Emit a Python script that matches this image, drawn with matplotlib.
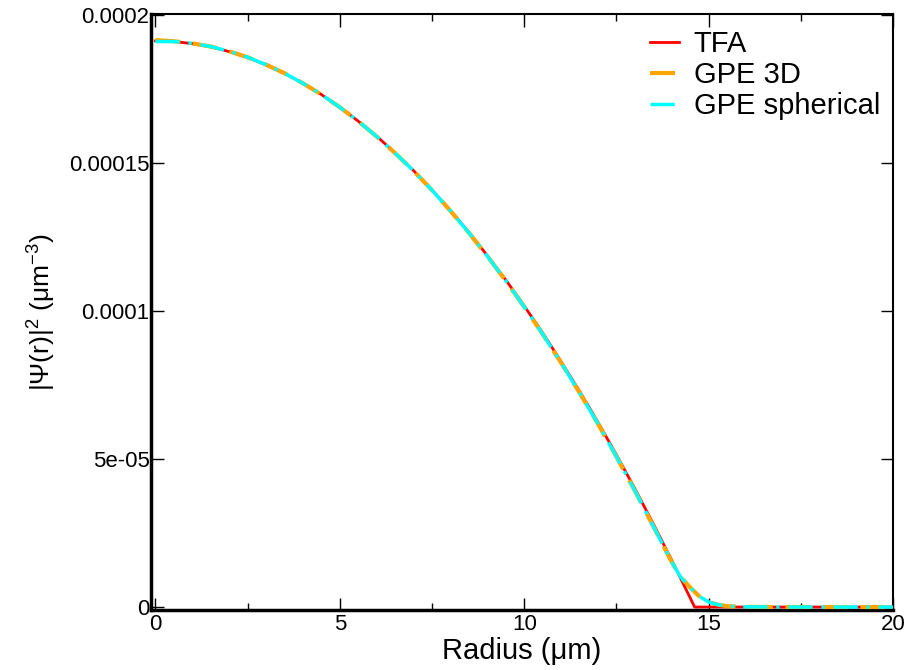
import matplotlib
matplotlib.use("Agg")
import matplotlib.pyplot as plt
from matplotlib.ticker import FixedLocator, FixedFormatter, MultipleLocator

plt.rcParams['font.family'] = ['Liberation Sans', 'DejaVu Sans']
plt.rcParams['mathtext.default'] = 'regular'

# radius grid (um)
r_tfa = [0, 0.5, 1, 1.5, 2, 2.5, 3, 3.5, 4, 4.5, 5, 5.5, 6, 6.5, 7, 7.5, 8, 8.5,
         9, 9.5, 10, 10.5, 11, 11.5, 12, 12.5, 13, 13.5, 14, 14.5, 14.62,
         15, 15.5, 16, 17, 18, 19, 20]
# density values in units of 1e-4 um^-3
n_tfa = [1.912, 1.910, 1.903, 1.892, 1.876, 1.856, 1.831, 1.802, 1.769, 1.731,
         1.688, 1.641, 1.590, 1.534, 1.474, 1.409, 1.339, 1.266, 1.187, 1.105,
         1.017, 0.926, 0.829, 0.729, 0.624, 0.514, 0.400, 0.281, 0.158, 0.031, 0.0,
         0.0, 0.0, 0.0, 0.0, 0.0, 0.0, 0.0]

r_gpe = [0, 0.5, 1, 1.5, 2, 2.5, 3, 3.5, 4, 4.5, 5, 5.5, 6, 6.5, 7, 7.5, 8, 8.5,
         9, 9.5, 10, 10.5, 11, 11.5, 12, 12.5, 13, 13.5, 14, 14.25, 14.5, 14.75,
         15, 15.25, 15.5, 16, 17, 18, 19, 20]
n_gpe3d = [1.915, 1.911, 1.904, 1.893, 1.877, 1.857, 1.832, 1.803, 1.769, 1.731,
           1.688, 1.641, 1.589, 1.533, 1.473, 1.408, 1.338, 1.264, 1.185, 1.102,
           1.014, 0.922, 0.825, 0.724, 0.619, 0.508, 0.393, 0.273, 0.152, 0.100,
           0.066, 0.036, 0.017, 0.008, 0.003, 0.0006, 0.0001, 0.0, 0.0, 0.0]
n_gpesph = [1.910, 1.910, 1.904, 1.893, 1.877, 1.857, 1.832, 1.803, 1.769, 1.731,
            1.688, 1.641, 1.589, 1.533, 1.473, 1.408, 1.338, 1.264, 1.185, 1.102,
            1.014, 0.922, 0.825, 0.724, 0.619, 0.508, 0.393, 0.273, 0.152, 0.100,
            0.066, 0.036, 0.017, 0.008, 0.003, 0.0006, 0.0001, 0.0, 0.0, 0.0]

series_labels = ["TFA", "GPE 3D", "GPE spherical"]
x_ticks = [0, 5, 10, 15, 20]
y_ticks = [0, 5e-5, 1e-4, 1.5e-4, 2e-4]
y_tick_labels = ["0", "5e-05", "0.0001", "0.00015", "0.0002"]

scale = 1e-4

fig = plt.figure(figsize=(9.09, 6.70), dpi=100)
ax = fig.add_axes([151/909, 1 - 610/670, (893 - 151)/909, (610 - 14)/670])

ax.plot(r_tfa, [v * scale for v in n_tfa], color='red', lw=2.0, label=series_labels[0], zorder=2)
ax.plot(r_gpe, [v * scale for v in n_gpe3d], color='orange', lw=3.0,
        dashes=(6, 3), label=series_labels[1], zorder=3)
ax.plot(r_gpe, [v * scale for v in n_gpesph], color='cyan', lw=2.5,
        dashes=(7, 2.5, 1, 2.5), label=series_labels[2], zorder=4)

ax.set_xlim(-0.12, 20.0)
ax.set_ylim(-1e-6, 2.003e-4)

ax.xaxis.set_major_locator(FixedLocator(x_ticks))
ax.xaxis.set_minor_locator(MultipleLocator(2.5))
ax.yaxis.set_major_locator(FixedLocator(y_ticks))
ax.yaxis.set_major_formatter(FixedFormatter(y_tick_labels))

ax.tick_params(axis='both', which='major', direction='in', length=9, width=1.0,
               labelsize=16, top=True, right=True)
ax.tick_params(axis='y', which='major', pad=1)
ax.tick_params(axis='x', which='major', pad=3)
ax.tick_params(axis='x', which='minor', direction='in', length=5, width=1.0,
               top=True, bottom=True)
ax.tick_params(axis='y', which='minor', left=False, right=False)

for s in ['left', 'bottom']:
    ax.spines[s].set_linewidth(2.5)
for s in ['top', 'right']:
    ax.spines[s].set_linewidth(1.5)

ax.set_xlabel("Radius (μm)", fontsize=21, labelpad=1)
ax.set_ylabel("|Ψ(r)|$^{2}$ (μm$^{-3}$)", fontsize=19, labelpad=8)

leg = ax.legend(loc='upper right', bbox_to_anchor=(880/909, 1 - 30/670),
                bbox_transform=fig.transFigure, frameon=False, fontsize=21,
                handlelength=1.0, handletextpad=0.5, labelspacing=0.1,
                borderaxespad=0, borderpad=0)

fig.savefig("out.png", dpi=100)
